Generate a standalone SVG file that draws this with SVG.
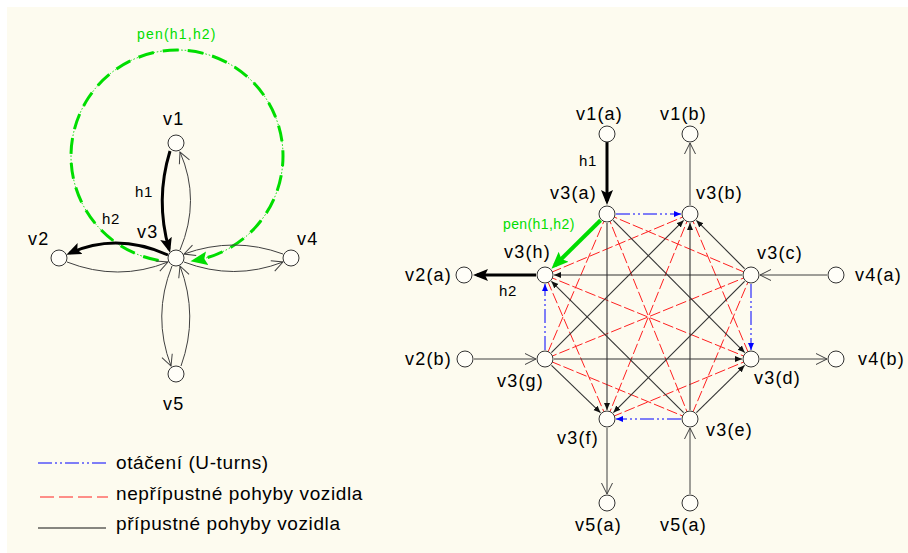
<svg xmlns="http://www.w3.org/2000/svg" width="908" height="553" viewBox="0 0 908 553">
<style>
text{font-family:"Liberation Sans",Arial,sans-serif;fill:#000}
.lbl{font-size:18px;letter-spacing:1.2px}
.sm{font-size:15px;letter-spacing:0.6px}
.pen{font-size:14px;letter-spacing:0.4px;fill:#00dd00}
.leg{font-size:19px;letter-spacing:0.6px}
.nd{fill:#fffef8;stroke:#333;stroke-width:1}
.thin{stroke:#404040;stroke-width:1;fill:none}
.blk{stroke:#333;stroke-width:1.1;fill:none}
.red{stroke:#ff2020;stroke-width:1;stroke-dasharray:11 3;fill:none}
.blue{stroke:#0000ff;stroke-width:1;stroke-dasharray:14 3 2 3 2 3;fill:none}
.thick{stroke:#000;stroke-width:3;fill:none}
.grn{stroke:#00dd00;stroke-width:4;fill:none}
</style>
<defs>
<marker id="vo" markerUnits="userSpaceOnUse" orient="auto" markerWidth="14" markerHeight="14" viewBox="-1 -1 14 14" refX="11" refY="5.5"><path d="M0,0 L11,5.5 L0,11" fill="none" stroke="#404040" stroke-width="1"/></marker>
<marker id="sb" markerUnits="userSpaceOnUse" orient="auto" markerWidth="8" markerHeight="7" viewBox="0 0 8 7" refX="7" refY="3"><path d="M0,0 L7,3 L0,6 z" fill="#111"/></marker>
<marker id="sbl" markerUnits="userSpaceOnUse" orient="auto" markerWidth="8" markerHeight="7" viewBox="0 0 8 7" refX="7" refY="3"><path d="M0,0 L7,3 L0,6 z" fill="#0000ff"/></marker>
<marker id="big" markerUnits="userSpaceOnUse" orient="auto" markerWidth="16" markerHeight="13" viewBox="0 0 16 13" refX="11" refY="6"><path d="M0,0 L15,6 L0,12 L3,6 z" fill="#000"/></marker>
<marker id="gr" markerUnits="userSpaceOnUse" orient="auto" markerWidth="18" markerHeight="15" viewBox="0 0 18 15" refX="12" refY="7"><path d="M0,0 L17,7 L0,14 L3,7 z" fill="#00dd00"/></marker>
</defs>
<rect x="0" y="0" width="908" height="553" fill="#ffffff"/>
<rect x="7" y="7" width="901" height="546" fill="#fdfbef"/>

<g id="connectors">
  <!-- left graph -->
  <path d="M158.6,260.4 A106,106 0 1 1 195.4,260.4" stroke="#00dd00" stroke-width="1" stroke-dasharray="1.5 2" fill="none"/>
  <path d="M158.6,260.4 A106,106 0 1 1 195.4,260.4" stroke="#00dd00" stroke-width="3" stroke-dasharray="16 9" fill="none" marker-end="url(#gr)"/>
  <path class="thick" d="M170,151 Q155,200 169,249" marker-end="url(#big)"/>
  <path class="thin" d="M180,250 Q201,200 180,152" marker-end="url(#vo)"/>
  <path class="thick" d="M168,255 Q117,232 70,253" marker-end="url(#big)"/>
  <path class="thin" d="M67,262 Q118,282 168,262" marker-end="url(#vo)"/>
  <path class="thin" d="M283,254 Q234,236 184,254" marker-end="url(#vo)"/>
  <path class="thin" d="M184,262 Q234,281 283,262" marker-end="url(#vo)"/>
  <path class="thin" d="M172,266 Q152,316 171,366" marker-end="url(#vo)"/>
  <path class="thin" d="M181,366 Q199,316 180,266" marker-end="url(#vo)"/>

  <!-- right graph: inadmissible -->
  <path class="red" d="M607,214 L751,275"/>
  <path class="red" d="M607,214 L690,419"/>
  <path class="red" d="M607,214 L545,359"/>
  <path class="red" d="M751,275 L690,419"/>
  <path class="red" d="M751,275 L545,359"/>
  <path class="red" d="M690,419 L545,359"/>
  <path class="red" d="M690,214 L751,359"/>
  <path class="red" d="M690,214 L607,419"/>
  <path class="red" d="M690,214 L545,275"/>
  <path class="red" d="M751,359 L607,419"/>
  <path class="red" d="M751,359 L545,275"/>
  <path class="red" d="M607,419 L545,275"/>

  <!-- admissible -->
  <path class="blk" d="M613.3,220.4 L744.7,352.6" marker-end="url(#sb)"/>
  <path class="blk" d="M607,223 L607,410" marker-end="url(#sb)"/>
  <path class="blk" d="M744.6,268.6 L696.4,220.4" marker-end="url(#sb)"/>
  <path class="blk" d="M742,275 L554,275" marker-end="url(#sb)"/>
  <path class="blk" d="M744.6,281.4 L613.4,412.6" marker-end="url(#sb)"/>
  <path class="blk" d="M696.4,412.7 L744.6,365.3" marker-end="url(#sb)"/>
  <path class="blk" d="M690,410 L690,223" marker-end="url(#sb)"/>
  <path class="blk" d="M683.6,412.7 L551.4,281.3" marker-end="url(#sb)"/>
  <path class="blk" d="M551.5,365.3 L600.5,412.7" marker-end="url(#sb)"/>
  <path class="blk" d="M554,359 L742,359" marker-end="url(#sb)"/>
  <path class="blk" d="M551.4,352.6 L683.6,220.4" marker-end="url(#sb)"/>

  <!-- U-turns -->
  <path class="blue" d="M616,214 L681,214" marker-end="url(#sbl)"/>
  <path class="blue" d="M751,284 L751,350" marker-end="url(#sbl)"/>
  <path class="blue" d="M681,419 L616,419" marker-end="url(#sbl)"/>
  <path class="blue" d="M545,350 L545,284" marker-end="url(#sbl)"/>

  <!-- penalty -->
  <path class="grn" d="M600.6,220.3 L555,265.2" marker-end="url(#gr)"/>

  <!-- outer arcs -->
  <path class="thick" d="M607,142 L607,201" marker-end="url(#big)"/>
  <path class="thick" d="M536,275 L477,275" marker-end="url(#big)"/>
  <path class="thin" d="M690,205 L690,143" marker-end="url(#vo)"/>
  <path class="thin" d="M827,275 L760,275" marker-end="url(#vo)"/>
  <path class="thin" d="M760,359 L827,359" marker-end="url(#vo)"/>
  <path class="thin" d="M690,494 L690,428" marker-end="url(#vo)"/>
  <path class="thin" d="M607,428 L607,494" marker-end="url(#vo)"/>
  <path class="thin" d="M474,359 L536,359" marker-end="url(#vo)"/>

  <!-- edge labels -->
  <text class="pen" x="137" y="39" style="letter-spacing:1.2px">pen(h1,h2)</text>
  <text class="sm" x="135" y="197">h1</text>
  <text class="sm" x="102" y="224">h2</text>
  <text class="sm" x="579" y="166">h1</text>
  <text class="sm" x="499" y="296">h2</text>
  <text class="pen" x="503" y="229">pen(h1,h2)</text>
</g>

<!-- left graph nodes -->
<g id="v1"><circle class="nd" cx="176" cy="143" r="8"/><text class="lbl" x="163" y="125">v1</text></g>
<g id="v2"><circle class="nd" cx="59" cy="258" r="8"/><text class="lbl" x="28" y="245">v2</text></g>
<g id="v3"><circle class="nd" cx="176" cy="258" r="8"/><text class="lbl" x="137" y="238">v3</text></g>
<g id="v4"><circle class="nd" cx="291" cy="258" r="8"/><text class="lbl" x="297" y="245">v4</text></g>
<g id="v5"><circle class="nd" cx="176" cy="374" r="8"/><text class="lbl" x="163" y="410">v5</text></g>

<!-- right graph nodes -->
<g id="v1a"><circle class="nd" cx="607" cy="134" r="8"/><text class="lbl" x="576" y="120">v1(a)</text></g>
<g id="v1b"><circle class="nd" cx="690" cy="134" r="8"/><text class="lbl" x="660" y="120">v1(b)</text></g>
<g id="v2a"><circle class="nd" cx="464" cy="275" r="8"/><text class="lbl" x="405" y="281">v2(a)</text></g>
<g id="v2b"><circle class="nd" cx="465" cy="359" r="8"/><text class="lbl" x="405" y="365">v2(b)</text></g>
<g id="v4a"><circle class="nd" cx="836" cy="275" r="8"/><text class="lbl" x="855" y="281">v4(a)</text></g>
<g id="v4b"><circle class="nd" cx="836" cy="359" r="8"/><text class="lbl" x="858" y="365">v4(b)</text></g>
<g id="v5a1"><circle class="nd" cx="607" cy="503" r="8"/><text class="lbl" x="575" y="531">v5(a)</text></g>
<g id="v5a2"><circle class="nd" cx="690" cy="503" r="8"/><text class="lbl" x="660" y="531">v5(a)</text></g>
<g id="v3a"><circle class="nd" cx="607" cy="214" r="8"/><text class="lbl" x="550" y="199">v3(a)</text></g>
<g id="v3b"><circle class="nd" cx="690" cy="214" r="8"/><text class="lbl" x="696" y="199">v3(b)</text></g>
<g id="v3c"><circle class="nd" cx="751" cy="275" r="8"/><text class="lbl" x="757" y="259">v3(c)</text></g>
<g id="v3d"><circle class="nd" cx="751" cy="359" r="8"/><text class="lbl" x="754" y="384">v3(d)</text></g>
<g id="v3e"><circle class="nd" cx="690" cy="419" r="8"/><text class="lbl" x="706" y="436">v3(e)</text></g>
<g id="v3f"><circle class="nd" cx="607" cy="419" r="8"/><text class="lbl" x="557" y="444">v3(f)</text></g>
<g id="v3g"><circle class="nd" cx="545" cy="359" r="8"/><text class="lbl" x="497" y="387">v3(g)</text></g>
<g id="v3h"><circle class="nd" cx="545" cy="275" r="8"/><text class="lbl" x="504" y="258">v3(h)</text></g>

<!-- legend -->
<g id="legend">
  <path class="blue" d="M38,463 L106,463"/>
  <text class="leg" x="116" y="469">otáčení (U-turns)</text>
  <path class="red" d="M40,497 L108,497" style="stroke-dasharray:14 5"/>
  <text class="leg" x="116" y="500">nepřípustné pohyby vozidla</text>
  <path class="thin" d="M38,528 L106,528" style="stroke:#111"/>
  <text class="leg" x="116" y="530">přípustné pohyby vozidla</text>
</g>
</svg>
